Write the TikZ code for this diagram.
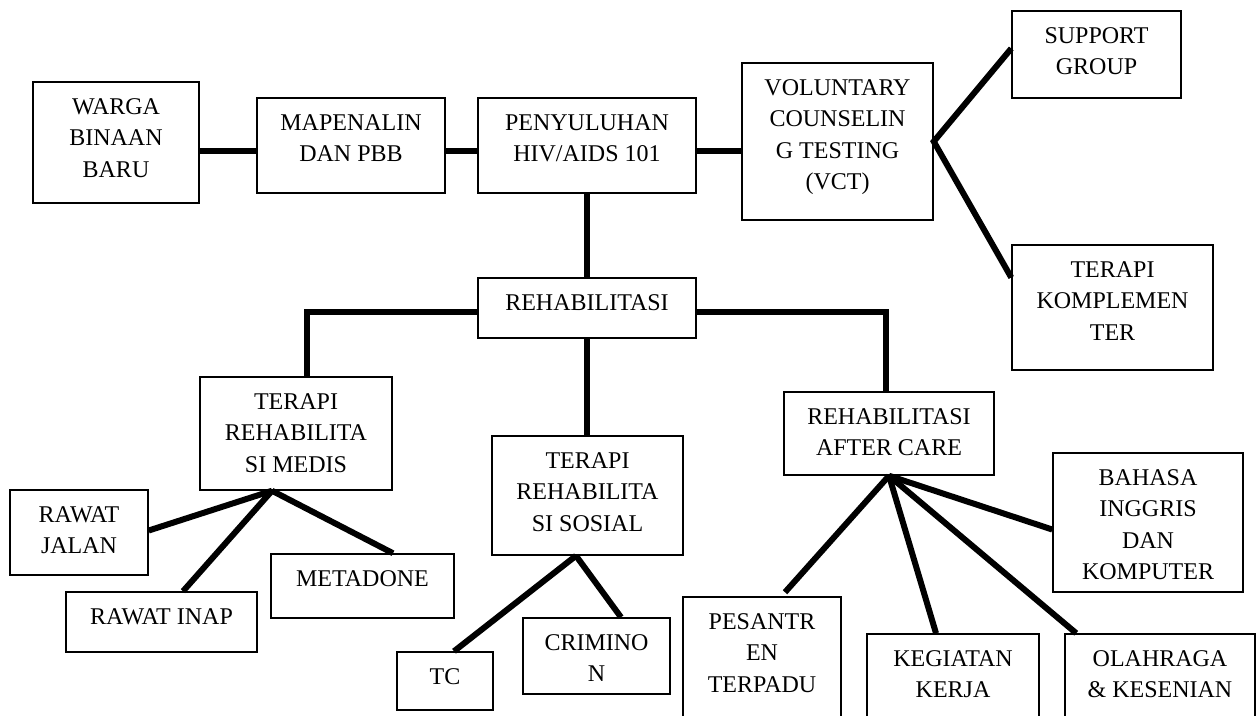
\documentclass[tikz,border=0pt]{standalone}
\usepackage{fontspec}
\setmainfont{Liberation Serif}
\usetikzlibrary{calc}
\tikzset{
  box/.style={draw, line width=1.5pt, rectangle, inner sep=0pt},
  lbl/.style={inner sep=0pt, align=center, anchor=north, font=\fontsize{24}{31.5}\selectfont},
  conn/.style={line width=6pt},
}
\newcommand\mybox[6]{%
  \node[box, minimum width={#4-#2}, minimum height={#5-#3}] (#1) at ({(#2+#4)/2},{(#3+#5)/2}) {};
  \node[lbl] (#1-t) at ([yshift=-17pt]#1.north) {#6};
}
\begin{document}
\begin{tikzpicture}[x=1pt,y=-1pt]
\useasboundingbox (0,0) rectangle (1257,715);
\clip (0,0) rectangle (1257,715);
\fill[white] (0,0) rectangle (1257,715);
\mybox{warga}{33}{82}{199}{203}{WARGA\\BINAAN\\BARU}
\mybox{mapen}{257}{98}{445}{193}{MAPENALIN\\DAN PBB}
\mybox{peny}{478}{98}{696}{193}{PENYULUHAN\\HIV/AIDS 101}
\mybox{vct}{742}{63}{933}{220}{VOLUNTARY\\COUNSELIN\\G TESTING\\(VCT)}
\mybox{supp}{1012}{11}{1181}{98}{SUPPORT\\GROUP}
\mybox{kompl}{1012}{245}{1213}{370}{TERAPI\\KOMPLEMEN\\TER}
\mybox{rehab}{478}{278}{696}{338}{REHABILITASI}
\mybox{medis}{200}{377}{392}{490}{TERAPI\\REHABILITA\\SI MEDIS}
\mybox{sosial}{492}{436}{683}{555}{TERAPI\\REHABILITA\\SI SOSIAL}
\mybox{after}{784}{392}{994}{475}{REHABILITASI\\AFTER CARE}
\mybox{jalan}{10}{490}{148}{575}{RAWAT\\JALAN}
\mybox{inap}{66}{592}{257}{652}{RAWAT INAP}
\mybox{meta}{271}{554}{454}{618}{METADONE}
\mybox{tc}{397}{652}{493}{710}{TC}
\mybox{crim}{523}{618}{670}{694}{CRIMINO\\N}
\mybox{pes}{683}{597}{841}{745}{PESANTR\\EN\\TERPADU}
\mybox{keg}{867}{634}{1039}{745}{KEGIATAN\\KERJA}
\mybox{olah}{1065}{634}{1255}{745}{OLAHRAGA\\\& KESENIAN}
\mybox{bahasa}{1053}{453}{1243}{592}{BAHASA\\INGGRIS\\DAN\\KOMPUTER}
\coordinate (row) at (0,151);
\coordinate (hl) at (0,312);
\coordinate (fm) at ([xshift=-24pt]medis.south);
\coordinate (fs) at ([xshift=-11.5pt]sosial.south);
\coordinate (fa) at (after.south);
% top row
\draw[conn] (warga.east |- row) -- (mapen.west |- row);
\draw[conn] (mapen.east |- row) -- (peny.west |- row);
\draw[conn] (peny.east |- row) -- (vct.west |- row);
% VCT fork
\draw[conn] ([yshift=6pt]supp.west) -- (vct.east) -- ([yshift=30pt]kompl.west);
% down to rehab
\draw[conn] (peny.south) -- (peny.south |- rehab.north);
\draw[conn] (rehab.west |- hl) -| ([xshift=11pt]medis.north);
\draw[conn] (rehab.east |- hl) -| ([xshift=-3pt]after.north);
\draw[conn] (rehab.south) -- (rehab.south |- sosial.north);
% medis fork
\draw[conn] (fm) -- ([yshift=2pt]jalan.east);
\draw[conn] (fm) -- ([xshift=21.5pt]inap.north);
\draw[conn] (fm) -- ([xshift=30.5pt]meta.north);
% sosial fork
\draw[conn] (fs) -- ([xshift=9pt]tc.north);
\draw[conn] (fs) -- ([xshift=24.5pt]crim.north);
% after care fork
\draw[conn] (fa) -- ([xshift=23pt,yshift=4pt]pes.north);
\draw[conn] (fa) -- ([xshift=-17pt]keg.north);
\draw[conn] (fa) -- ([xshift=12pt]olah.north west);
\draw[conn] (fa) -- ([yshift=-7pt]bahasa.west);
\end{tikzpicture}
\end{document}
